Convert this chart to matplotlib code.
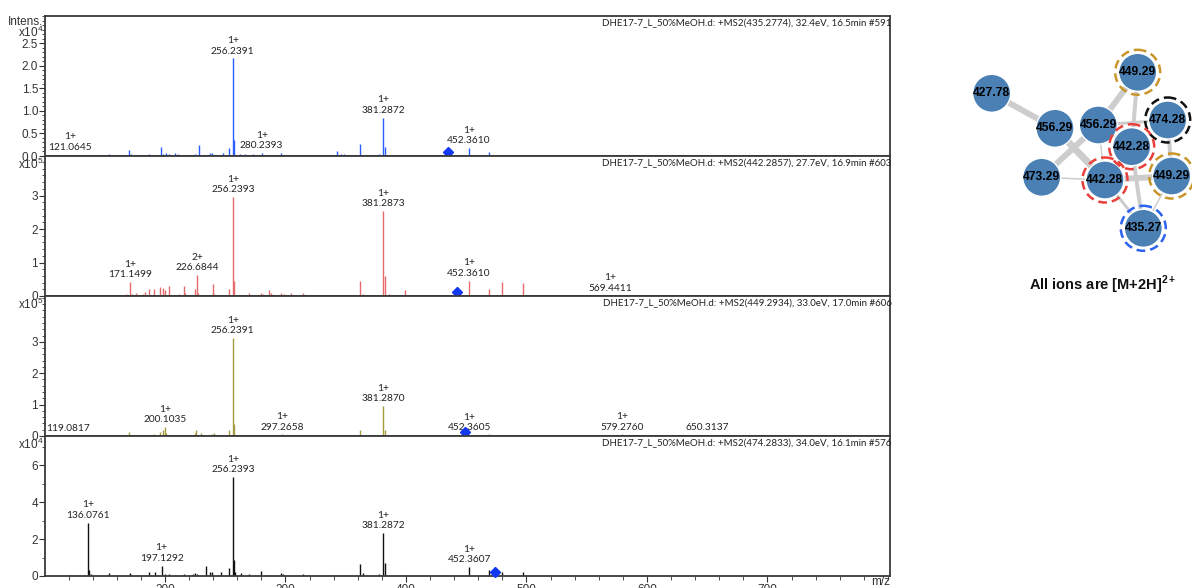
import numpy as np
import matplotlib
matplotlib.use("Agg")
import matplotlib.pyplot as plt
from matplotlib.patches import Circle
from matplotlib.ticker import MultipleLocator, FixedLocator, FormatStrFormatter

plt.rcParams["font.family"] = ["Liberation Sans", "DejaVu Sans"]
plt.rcParams["mathtext.fontset"] = "custom"
plt.rcParams["mathtext.rm"] = "Liberation Sans"
plt.rcParams["mathtext.bf"] = "Liberation Sans:bold"

# ---- MS2 spectra (intensity already divided by the panel's power of ten) ----
titles = [
    "DHE17-7_L_50%MeOH.d: +MS2(435.2774), 32.4eV, 16.5min #591",
    "DHE17-7_L_50%MeOH.d: +MS2(442.2857), 27.7eV, 16.9min #603",
    "DHE17-7_L_50%MeOH.d: +MS2(449.2934), 33.0eV, 17.0min #606",
    "DHE17-7_L_50%MeOH.d: +MS2(474.2833), 34.0eV, 16.1min #576",
]
precursors = [435.2774, 442.2857, 449.2934, 474.2833]
exponents = [4, 5, 5, 4]

mz_1 = [121.0645, 126.2, 137.3, 153.9, 158.0, 167.0, 170.5, 171.8, 184.3, 186.3, 190.5,
        196.5, 198.2, 201.0, 203.7, 207.9, 210.6, 224.5, 228.1, 237.0, 239.2, 248.0,
        253.5, 256.2391, 257.24, 262.3, 266.4, 272.8, 280.2393, 286.1, 296.4, 313.8,
        336.5, 342.6, 346.2, 348.4, 353.1, 362.2, 371.0, 377.9, 381.2872, 382.29,
        398.2, 452.3610, 469.3, 479.5, 497.5]
int_1 = [0.03, 0.02, 0.015, 0.05, 0.03, 0.03, 0.13, 0.04, 0.03, 0.05, 0.02,
         0.20, 0.05, 0.06, 0.04, 0.07, 0.05, 0.05, 0.25, 0.07, 0.07, 0.07,
         0.17, 2.16, 0.35, 0.04, 0.04, 0.05, 0.07, 0.03, 0.06, 0.02,
         0.02, 0.10, 0.04, 0.04, 0.02, 0.26, 0.03, 0.04, 0.85, 0.19,
         0.03, 0.18, 0.08, 0.03, 0.03]

mz_2 = [137.0, 153.9, 158.0, 167.4, 171.1499, 172.3, 176.0, 181.5, 183.4, 186.3, 190.5,
        196.2, 198.2, 199.6, 203.7, 212.0, 215.4, 217.0, 224.5, 226.6844, 227.3, 239.7,
        241.0, 253.5, 256.2393, 257.24, 262.3, 269.5, 279.8, 281.0, 286.7, 288.0,
        296.4, 299.0, 304.6, 314.3, 336.5, 353.1, 362.2, 364.0, 371.0, 377.9,
        381.2873, 382.29, 385.6, 398.8, 433.4, 452.3610, 469.3, 479.5, 497.5,
        538.7, 569.4411, 610.0]
int_2 = [0.01, 0.02, 0.02, 0.05, 0.41, 0.06, 0.10, 0.06, 0.12, 0.20, 0.22,
         0.26, 0.25, 0.18, 0.30, 0.06, 0.30, 0.08, 0.20, 0.63, 0.10, 0.35,
         0.05, 0.20, 2.95, 0.44, 0.03, 0.10, 0.08, 0.05, 0.17, 0.10,
         0.08, 0.06, 0.08, 0.08, 0.03, 0.03, 0.46, 0.06, 0.04, 0.04,
         2.54, 0.60, 0.06, 0.18, 0.03, 0.46, 0.22, 0.43, 0.38,
         0.01, 0.02, 0.01]

mz_3 = [119.0817, 153.9, 167.4, 170.5, 176.0, 182.0, 190.5, 196.2, 198.2, 200.1035, 201.0,
        212.0, 217.0, 224.5, 225.9, 229.5, 239.2, 240.5, 253.5, 256.2391, 257.24, 261.8,
        279.8, 297.2658, 298.0, 314.3, 344.6, 362.2, 381.2870, 382.29, 398.8,
        433.0, 452.3605, 469.3, 479.5, 497.5, 520.0, 540.0, 579.2760, 650.3137]
int_3 = [0.01, 0.02, 0.03, 0.13, 0.03, 0.03, 0.06, 0.13, 0.18, 0.29, 0.10,
         0.04, 0.04, 0.08, 0.20, 0.08, 0.06, 0.10, 0.18, 3.13, 0.37, 0.03,
         0.04, 0.05, 0.04, 0.02, 0.02, 0.20, 0.95, 0.20, 0.03,
         0.02, 0.04, 0.05, 0.03, 0.03, 0.01, 0.01, 0.05, 0.03]

mz_4 = [119.4, 122.2, 126.2, 136.0761, 137.08, 138.4, 153.9, 158.0, 170.7, 171.3, 179.5,
        186.3, 188.4, 191.8, 197.1292, 200.4, 203.7, 215.6, 223.0, 224.5, 226.4, 234.2,
        237.5, 239.2, 246.6, 253.5, 256.2393, 257.24, 258.2, 263.1, 269.5, 279.8,
        286.7, 296.4, 298.0, 314.3, 318.5, 336.5, 344.6, 353.1, 362.2, 364.0, 377.9,
        381.2872, 382.29, 398.8, 433.0, 452.3607, 469.3, 472.0, 479.5, 497.5]
int_4 = [0.08, 0.03, 0.03, 2.90, 0.30, 0.10, 0.15, 0.05, 0.15, 0.10, 0.08,
         0.20, 0.08, 0.20, 0.57, 0.12, 0.10, 0.12, 0.10, 0.15, 0.10, 0.52,
         0.20, 0.20, 0.20, 0.43, 5.37, 0.85, 0.20, 0.15, 0.10, 0.25,
         0.05, 0.18, 0.10, 0.10, 0.05, 0.05, 0.05, 0.06, 0.67, 0.15, 0.10,
         2.34, 0.70, 0.05, 0.05, 0.48, 0.35, 0.10, 0.20, 0.20]

# labelled peaks: (m/z, charge state or "")
labels_1 = [(121.0645, "1+"), (256.2391, "1+"), (280.2393, "1+"), (381.2872, "1+"), (452.3610, "1+")]
labels_2 = [(171.1499, "1+"), (226.6844, "2+"), (256.2393, "1+"), (381.2873, "1+"),
            (452.3610, "1+"), (569.4411, "1+")]
labels_3 = [(119.0817, ""), (200.1035, "1+"), (256.2391, "1+"), (297.2658, "1+"), (381.2870, "1+"),
            (452.3605, "1+"), (579.2760, "1+"), (650.3137, "")]
labels_4 = [(136.0761, "1+"), (197.1292, "1+"), (256.2393, "1+"), (381.2872, "1+"), (452.3607, "1+")]

# ---- molecular network ----
node_labels = ["427.78", "456.29", "456.29", "449.29", "474.28",
               "442.28", "473.29", "442.28", "449.29", "435.27"]
node_rings = [None, None, None, "#c9962c", "#111111",
              "#e8413c", None, "#e8413c", "#c9962c", "#2b63f0"]
edges = [(0, 1, 6), (1, 7, 7), (2, 6, 6), (3, 2, 6), (3, 5, 4), (2, 4, 3), (2, 7, 1.5),
         (6, 7, 1.5), (4, 8, 4), (7, 8, 6), (5, 9, 4), (7, 9, 3), (8, 9, 1.5), (2, 5, 3), (5, 7, 3)]

W, H = 1192, 588
fig = plt.figure(figsize=(W / 100, H / 100), dpi=100)

spectra = [
    (mz_1, int_1, labels_1, "#2a5cff", 3.1, [0, 0.5, 1.0, 1.5, 2.0, 2.5], 0.1, "%.1f"),
    (mz_2, int_2, labels_2, "#e8696b", 4.18, [0, 1, 2, 3], 0.2, "%d"),
    (mz_3, int_3, labels_3, "#a59c3e", 4.46, [0, 1, 2, 3], 0.2, "%d"),
    (mz_4, int_4, labels_4, "#111111", 7.6, [0, 2, 4, 6], 1.0, "%d"),
]

ax_left, ax_right, top, panel_h = 45, 890, 16, 140
axes = []
for i, (mz, inten, labs, color, ymax, yt, ymin_step, fmt) in enumerate(spectra):
    y_top = top + i * panel_h
    ax = fig.add_axes([ax_left / W, 1 - (y_top + panel_h) / H,
                       (ax_right - ax_left) / W, panel_h / H])
    axes.append(ax)
    mz = np.array(mz)
    inten = np.array(inten)
    ax.vlines(mz, 0, inten, color=color, lw=1.0)
    ax.plot([precursors[i]], [0.028], marker="D", ms=5.5, color="#1238f2",
            transform=ax.get_xaxis_transform(), clip_on=False, zorder=5)

    for m, z in labs:
        y = inten[np.argmin(np.abs(mz - m))]
        txt = f"{z}\n{m:.4f}" if z else f"{m:.4f}"
        ax.annotate(txt, (m, y), xytext=(0, 2), textcoords="offset points",
                    ha="center", va="bottom", fontsize=7.3, linespacing=1.2,
                    family="Lato", color="#222222")

    ax.annotate(titles[i], (1, 1), xycoords="axes fraction", xytext=(1, -2),
                textcoords="offset points", ha="right", va="top",
                fontsize=7, family="Lato", color="#222222", annotation_clip=False)

    ax.set_xlim(100.4, 801.7)
    ax.set_ylim(0, ymax)
    ax.yaxis.set_major_locator(FixedLocator(yt))
    ax.yaxis.set_major_formatter(FormatStrFormatter(fmt))
    ax.yaxis.set_minor_locator(MultipleLocator(ymin_step))
    ax.tick_params(axis="y", which="major", direction="out", length=4, width=0.8,
                   labelsize=8.5, pad=1, colors="#333333")
    ax.tick_params(axis="y", which="minor", direction="out", length=2, width=0.6, colors="#333333")
    for s in ax.spines.values():
        s.set_color("#3a3a3a")
        s.set_linewidth(1.3)

    # power-of-ten multiplier tucked beside the top of the y axis
    drop = -12 if i == 0 else -6
    ax.annotate(r"x10$^{%d}$" % exponents[i], (0, 1), xycoords="axes fraction",
                xytext=(-1, drop), textcoords="offset points", ha="right", va="center",
                fontsize=8.5, color="#333333", annotation_clip=False)

    if i < 3:
        ax.tick_params(axis="x", which="both", bottom=False, labelbottom=False)
    else:
        ax.xaxis.set_major_locator(FixedLocator([200, 300, 400, 500, 600, 700]))
        ax.xaxis.set_minor_locator(FixedLocator(np.arange(120, 801, 20)))
        ax.tick_params(axis="x", which="major", direction="out", length=4, width=0.8,
                       labelsize=8.5, pad=2, colors="#333333")
        ax.tick_params(axis="x", which="minor", direction="out", length=3, width=0.6,
                       colors="#333333")
        ax.text(1, 0, "m/z", transform=ax.transAxes, ha="right", va="top",
                fontsize=8.5, color="#333333")

axes[0].annotate("Intens.", (0, 1), xycoords="axes fraction", xytext=(-1, -4),
                 textcoords="offset points", ha="right", va="center",
                 fontsize=8.5, color="#333333", annotation_clip=False)

# ---- network panel drawn in pixel units ----
nx0, nx1, ny0, ny1 = 930, 1192, 40, 310
axn = fig.add_axes([nx0 / W, 1 - ny1 / H, (nx1 - nx0) / W, (ny1 - ny0) / H])
axn.set_xlim(nx0, nx1)
axn.set_ylim(ny1, ny0)
axn.axis("off")

node_x = [991.7, 1055.0, 1098.3, 1137.7, 1167.7, 1131.7, 1041.7, 1105.0, 1171.7, 1143.3]
node_y = [93.3, 128.3, 125.0, 72.3, 120.0, 146.7, 177.3, 180.0, 176.0, 228.3]

for a, b, w in edges:
    axn.plot([node_x[a], node_x[b]], [node_y[a], node_y[b]], color="#cdcdcd",
             lw=w * 0.72, solid_capstyle="butt", zorder=1)

for k in [1, 0, 2, 6, 3, 4, 5, 7, 8, 9]:
    axn.add_patch(Circle((node_x[k], node_y[k]), 19, facecolor="#4a80b4",
                         edgecolor="white", lw=1.0, zorder=2, clip_on=False))
    if node_rings[k]:
        axn.add_patch(Circle((node_x[k], node_y[k]), 22.5, facecolor="none",
                             edgecolor=node_rings[k], lw=1.8, ls=(0, (3.5, 2)),
                             zorder=3, clip_on=False))
    axn.text(node_x[k], node_y[k], node_labels[k], ha="center", va="center",
             fontsize=8.7, fontweight="bold", color="black", zorder=4, clip_on=False)

axn.text(1103, 285, r"All ions are [M+2H]$^{\mathbf{2+}}$", ha="center", va="center",
         fontsize=10.5, fontweight="bold", color="#111111")

fig.savefig("out.png", dpi=100, facecolor="white")
